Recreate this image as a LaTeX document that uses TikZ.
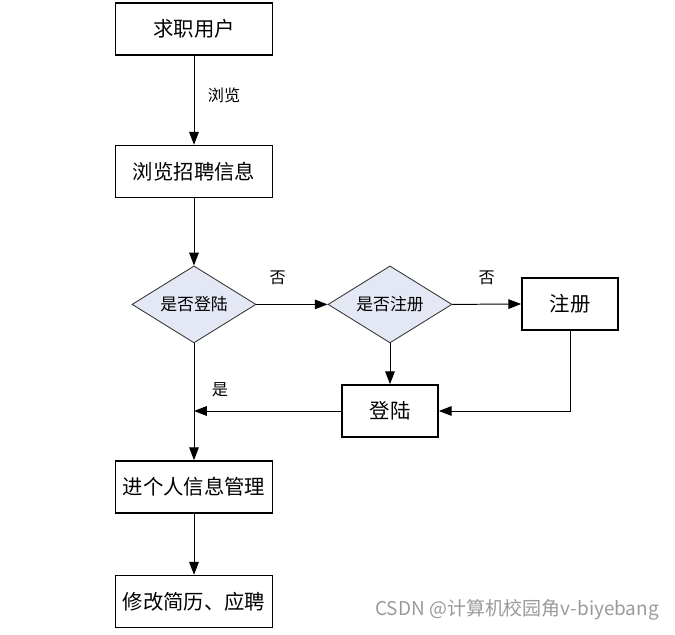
\documentclass[tikz,border=0pt]{standalone}
\usepackage{fontspec}
\usetikzlibrary{positioning, arrows.meta, shapes.geometric, calc}
\usepackage{xcolor}
\newfontfamily\cjk{Noto Sans CJK SC}
\definecolor{DiamondFill}{HTML}{E4E8F4}
\definecolor{MarkGray}{HTML}{9A9A9A}

\begin{document}
\begin{tikzpicture}[
  arr/.style={-{Triangle[length=3.2mm, width=2.4mm]}, line width=0.7pt},
  box/.style={rectangle, draw=black, line width=1.2pt, fill=white,
              align=center, font=\cjk\fontsize{14.5}{17}\selectfont, inner sep=2pt,
              minimum width=3.925cm, minimum height=1.3cm},
  smallbox/.style={box, minimum width=2.4cm},
  check/.style={diamond, draw=black!80, line width=0.6pt, fill=DiamondFill,
                align=center, font=\cjk\fontsize{12}{14}\selectfont, inner sep=0pt,
                aspect=1.6, minimum width=3.1cm, minimum height=1.925cm},
  lbl/.style={font=\cjk\fontsize{11.5}{13}\selectfont, inner sep=1pt}
]
\useasboundingbox (0,0) rectangle (16.875,-15.875);

\node[box]      (user)   at (4.85,-0.725)   {求职用户};
\node[box]      (browse) at (4.85,-4.29)    {浏览招聘信息};
\node[check]    (chk1)   at (4.85,-7.61)    {是否登陆};
\node[check]    (chk2)   at (9.75,-7.61)    {是否注册};
\node[smallbox] (reg)    at (14.25,-7.60)   {注册};
\node[smallbox] (login)  at (9.75,-10.275)  {登陆};
\node[box]      (mgmt)   at (4.85,-12.175)  {进个人信息管理};
\node[box]      (resume) at (4.85,-15.04)   {修改简历、应聘};
\node[font=\cjk\fontsize{13.5}{16}\selectfont, text=MarkGray, anchor=east, inner sep=0pt]
  (mark) at (16.48,-15.25) {CSDN @计算机校园角v-biyebang};

\draw[arr] (user.south) -- node[lbl, pos=0.45, right=0.3cm]{浏览} (browse.north);
\draw[arr] (browse.south) -- (chk1.north);
\draw[arr] (chk1.east) -- node[lbl, pos=0.3, above=0.45cm]{否} (chk2.west);
\draw[arr] (chk2.east) -- node[lbl, midway, above=0.45cm]{否} (reg.west);
\draw[arr] (chk2.south) -- (login.north);
\draw[arr] (reg.south) |- (login.east);
\draw[arr] (login.west) -- (chk1.south |- login.west);
\draw[arr] (chk1.south) -- node[lbl, pos=0.4, right=0.4cm]{是} (mgmt.north);
\draw[arr] (mgmt.south) -- (resume.north);
\end{tikzpicture}
\end{document}
